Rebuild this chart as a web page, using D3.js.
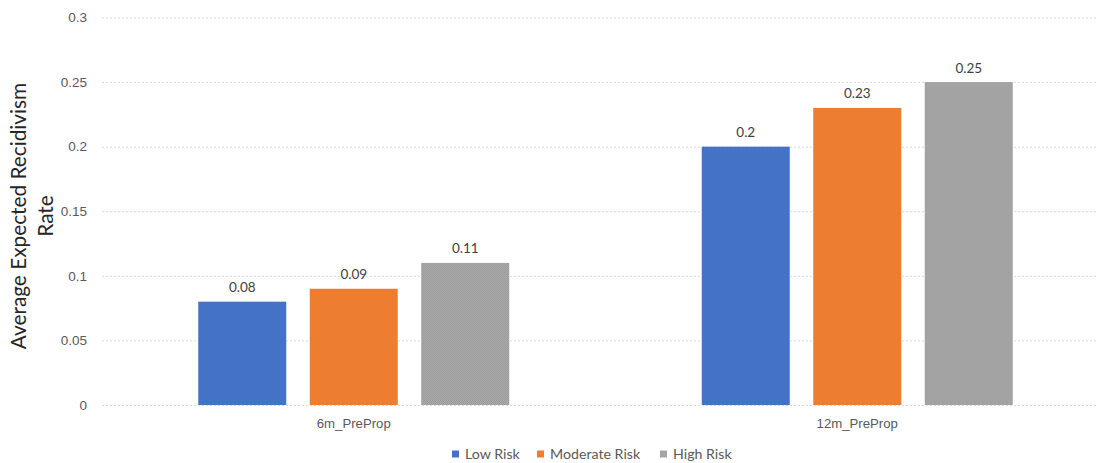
<!DOCTYPE html>
<html><head><meta charset="utf-8">
<script src="https://cdn.jsdelivr.net/npm/d3@7"></script>
<style>body{margin:0;background:#fff;} svg{display:block;font-family:Lato, "Liberation Sans", sans-serif;}</style>
</head><body>
<svg id="c" width="1098" height="463"></svg>
<script>
const categories = ["6m_PreProp", "12m_PreProp"];
const seriesNames = ["Low Risk", "Moderate Risk", "High Risk"];
const lowRisk = [0.08, 0.2];
const moderateRisk = [0.09, 0.23];
const highRisk = [0.11, 0.25];
const yTicks = [0, 0.05, 0.1, 0.15, 0.2, 0.25, 0.3];
const seriesValues = [lowRisk, moderateRisk, highRisk];
const colors = ["#4472c4", "#ed7d31", "url(#grayPat)"];
const legendColors = ["#4472c4", "#ed7d31", "#a5a5a5"];

const svg = d3.select("#c");
const defs = svg.append("defs");
const pat = defs.append("pattern").attr("id","grayPat").attr("patternUnits","userSpaceOnUse").attr("width",2).attr("height",2);
pat.append("rect").attr("width",2).attr("height",2).attr("fill","#a9a9a9");
pat.append("rect").attr("width",1).attr("height",1).attr("fill","#9c9c9c");
pat.append("rect").attr("x",1).attr("y",1).attr("width",1).attr("height",1).attr("fill","#9c9c9c");

const mLeft = 102, mRight = 1109, mTop = 17.5, mBottom = 405;
const y = d3.scaleLinear().domain([0, 0.3]).range([mBottom, mTop]);
const x0 = d3.scaleBand().domain(categories).range([mLeft, mRight]).padding(0);
const groupW = 311;
const off = (x0.bandwidth() - groupW) / 2;
const x1 = d3.scaleBand().domain(seriesNames).range([off, off + groupW]).paddingInner(0.2108).paddingOuter(0);

// gridlines
const yAxis = d3.axisLeft(y).tickValues(yTicks).tickSize(-(mRight - mLeft)).tickFormat(d => d3.format("")(d)).tickPadding(15);
const gy = svg.append("g").attr("transform", `translate(${mLeft},0)`).call(yAxis);
gy.select(".domain").remove();
gy.selectAll(".tick line").attr("stroke", "#d9d9d9").attr("stroke-dasharray", "2,2");
gy.selectAll(".tick text").attr("fill", "#595959").attr("font-size", "13.5px");

// bars
const groups = svg.append("g").selectAll("g").data(categories).join("g")
  .attr("transform", d => `translate(${x0(d)},0)`);
groups.each(function(cat, ci) {
  const g = d3.select(this);
  seriesNames.forEach((s, si) => {
    const v = seriesValues[si][ci];
    g.append("rect").attr("x", x1(s)).attr("width", x1.bandwidth())
      .attr("y", y(v)).attr("height", y(0) - y(v)).attr("fill", colors[si]);
    g.append("text").attr("x", x1(s) + x1.bandwidth()/2).attr("y", y(v) - 9.5)
      .attr("text-anchor", "middle").attr("fill", "#404040").attr("font-size", "13.5px").text(v);
  });
});

// x axis labels
const xAxis = d3.axisBottom(x0).tickSize(0).tickPadding(14);
const gx = svg.append("g").attr("transform", `translate(0,${mBottom})`).call(xAxis);
gx.select(".domain").remove();
gx.selectAll(".tick text").attr("fill", "#595959").attr("font-size", "13.2px");

// y title
const yt = svg.append("text").attr("transform", "translate(0,216) rotate(-90)")
  .attr("text-anchor", "middle").attr("fill", "#262626").attr("font-size", "20.8px");
yt.append("tspan").attr("x", 0).attr("y", 26).text("Average Expected Recidivism");
yt.append("tspan").attr("x", 0).attr("y", 53).text("Rate");

// legend
const legendX = [452, 537, 660];
const lg = svg.append("g").selectAll("g").data(seriesNames).join("g")
  .attr("transform", (d, i) => `translate(${legendX[i]},454)`);
lg.append("rect").attr("x", 0).attr("y", -3.5).attr("width", 7).attr("height", 7).attr("fill", (d, i) => legendColors[i]);
lg.append("text").attr("x", 13).attr("y", 5).attr("fill", "#595959").attr("font-size", "14.2px").text(d => d);
</script>
</body></html>
